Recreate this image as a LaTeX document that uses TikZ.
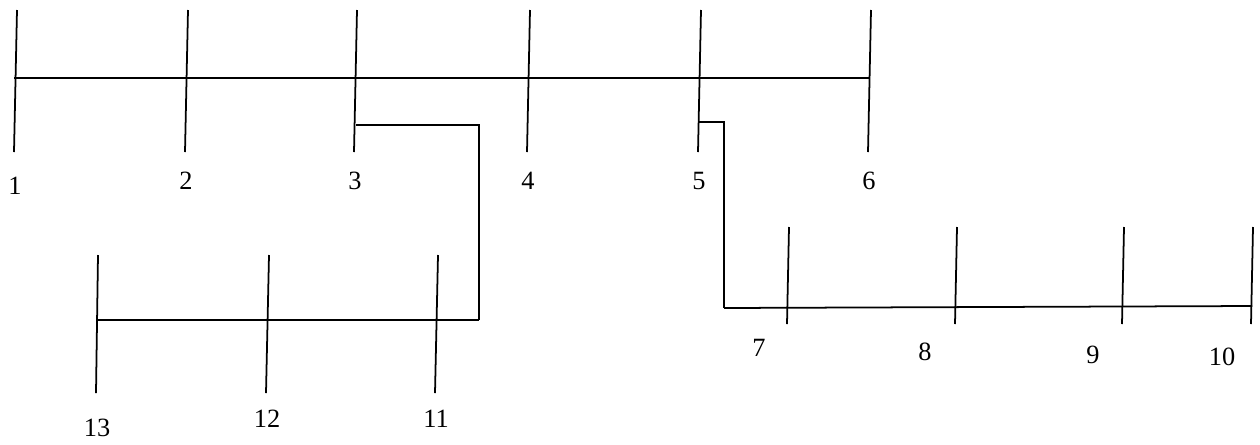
\documentclass[tikz,border=0pt]{standalone}
\usepackage{fontspec}
\setmainfont{Liberation Serif}

\begin{document}
\begin{tikzpicture}[x=0.02cm,y=-0.02cm,line width=1pt,
    num/.style={inner sep=0pt,font=\fontsize{15}{18}\selectfont}]
            \useasboundingbox (0,0) rectangle (1260,444);

            % Top row of poles
            \foreach \n/\xt/\xb/\ly in {1/17/14/186,2/188/185/181,3/357/354/181,4/530/527/181,5/701/698/181,6/871/868/181} {
                \coordinate (t\n) at (\xt,10);
                \coordinate (b\n) at (\xb,152);
                \draw (t\n) -- (b\n);
                \node[num] (n\n) at (\xb+1,\ly) {\n};
            }

            % Lower left poles
            \foreach \n/\xt/\xb/\ly in {13/98/96/428,12/269/266/419,11/438/435/419} {
                \coordinate (t\n) at (\xt,255);
                \coordinate (b\n) at (\xb,393);
                \draw (t\n) -- (b\n);
                \node[num] (n\n) at (\xb+1,\ly) {\n};
            }

            % Lower right poles
            \foreach \n/\xt/\xb/\lx/\ly in {7/789/787/759/348,8/957/955/925/352,9/1124/1122/1093/355,10/1253/1251/1222/357} {
                \coordinate (t\n) at (\xt,227);
                \coordinate (b\n) at (\xb,324);
                \draw (t\n) -- (b\n);
                \node[num] (n\n) at (\lx,\ly) {\n};
            }

            % Lines
            \coordinate (topL) at (14,78);
            \coordinate (topR) at (870,78);
            \coordinate (lowL) at (97,320);
            \coordinate (lowR) at (479,320);
            \coordinate (rgtL) at (724,308);
            \coordinate (rgtR) at (1252,306);
            \draw (topL) -- (topR);
            \draw (lowL) -- (lowR);
            \draw (rgtL) -- (rgtR);

            % Connections between the rows
            \coordinate (j3) at (356,125);
            \coordinate (j5) at (699,122);
            \draw (j3) -| (lowR);
            \draw (j5) -| (rgtL);
        \end{tikzpicture}
\end{document}
